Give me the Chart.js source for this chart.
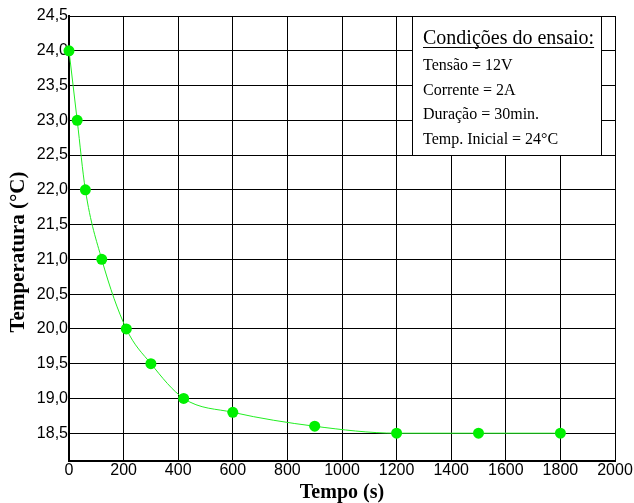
<!DOCTYPE html>
<html>
<head>
<meta charset="utf-8">
<script src="https://cdn.jsdelivr.net/npm/chart.js@4"></script>
<style>
  body { margin: 0; background: #fff; }
  #wrap { width: 634px; height: 503px; }
</style>
</head>
<body>
<div id="wrap"><canvas id="grafico"></canvas></div>
<script>
// Dados do ensaio
const tempo = [0, 30, 60, 120, 210, 300, 420, 600, 900, 1200, 1500, 1800];
const temperatura = [24.0, 23.0, 22.0, 21.0, 20.0, 19.5, 19.0, 18.8, 18.6, 18.5, 18.5, 18.5];
const ticksY = [18.5, 19.0, 19.5, 20.0, 20.5, 21.0, 21.5, 22.0, 22.5, 23.0, 23.5, 24.0, 24.5];
const condicoes = ['Tensão = 12V', 'Corrente = 2A', 'Duração = 30min.', 'Temp. Inicial = 24°C'];

const pontos = tempo.map((t, i) => ({ x: t, y: temperatura[i] }));

// Caixa com as condições do ensaio + título do eixo Y (um pouco abaixo do centro)
const caixaCondicoes = {
  id: 'caixaCondicoes',
  afterDraw(chart) {
    const ctx = chart.ctx;
    ctx.save();
    ctx.fillStyle = '#fff';
    ctx.fillRect(413, 16, 189, 140);
    ctx.strokeStyle = '#000';
    ctx.lineWidth = 1;
    ctx.strokeRect(412.5, 16.5, 189, 139);
    ctx.fillStyle = '#000';
    ctx.textBaseline = 'alphabetic';
    ctx.font = '20px "Liberation Serif", "Times New Roman", serif';
    const titulo = 'Condições do ensaio:';
    ctx.fillText(titulo, 423, 44);
    const w = ctx.measureText(titulo).width;
    ctx.fillRect(423, 47, w, 1);
    ctx.font = '16px "Liberation Serif", "Times New Roman", serif';
    condicoes.forEach((txt, i) => ctx.fillText(txt, 423, 70 + i * 24.5));

    ctx.translate(19, 252);
    ctx.rotate(-Math.PI / 2);
    ctx.font = 'bold 21px "Liberation Serif", "Times New Roman", serif';
    ctx.textAlign = 'center';
    ctx.textBaseline = 'middle';
    ctx.fillText('Temperatura (°C)', 0, 0);
    ctx.restore();
  }
};

const fonteTitulo = { family: '"Liberation Serif", "Times New Roman", serif', size: 20, weight: 'bold' };
const fonteTicks = { family: '"Liberation Sans", Arial, sans-serif', size: 16 };

const grafico = new Chart(document.getElementById('grafico'), {
  type: 'line',
  data: {
    datasets: [
      {
        data: pontos,
        borderColor: '#22ee22',
        borderWidth: 1,
        backgroundColor: '#00f000',
        pointBackgroundColor: '#00f000',
        pointBorderWidth: 0,
        pointRadius: 5.5,
        cubicInterpolationMode: 'monotone',
        clip: false
      }
    ]
  },
  options: {
    responsive: true,
    maintainAspectRatio: false,
    animation: false,
    layout: { padding: { top: 16, right: 19, left: 0, bottom: 0 } },
    plugins: {
      legend: { display: false },
      tooltip: { enabled: false }
    },
    scales: {
      x: {
        type: 'linear',
        min: 0,
        max: 2000,
        ticks: {
          stepSize: 200,
          padding: 0,
          color: '#000',
          font: fonteTicks,
          maxRotation: 0,
          callback: v => String(v)
        },
        grid: { color: '#000', lineWidth: 1, drawTicks: false },
        border: { color: '#000', width: 2 },
        title: {
          display: true,
          text: 'Tempo (s)',
          color: '#000',
          font: fonteTitulo,
          padding: { top: 0, bottom: -2 }
        },
        afterFit(scale) { scale.height = 42; }
      },
      y: {
        type: 'linear',
        min: 18.1,
        max: 24.5,
        afterBuildTicks(scale) { scale.ticks = ticksY.map(v => ({ value: v })); },
        ticks: {
          padding: 1,
          color: '#000',
          font: fonteTicks,
          callback: v => v.toFixed(1).replace('.', ',')
        },
        grid: { color: '#000', lineWidth: 1, drawTicks: false },
        border: { color: '#000', width: 2 },
        title: { display: false },
        afterFit(scale) { scale.width = 69; }
      }
    }
  },
  plugins: [caixaCondicoes]
});
</script>
</body>
</html>
